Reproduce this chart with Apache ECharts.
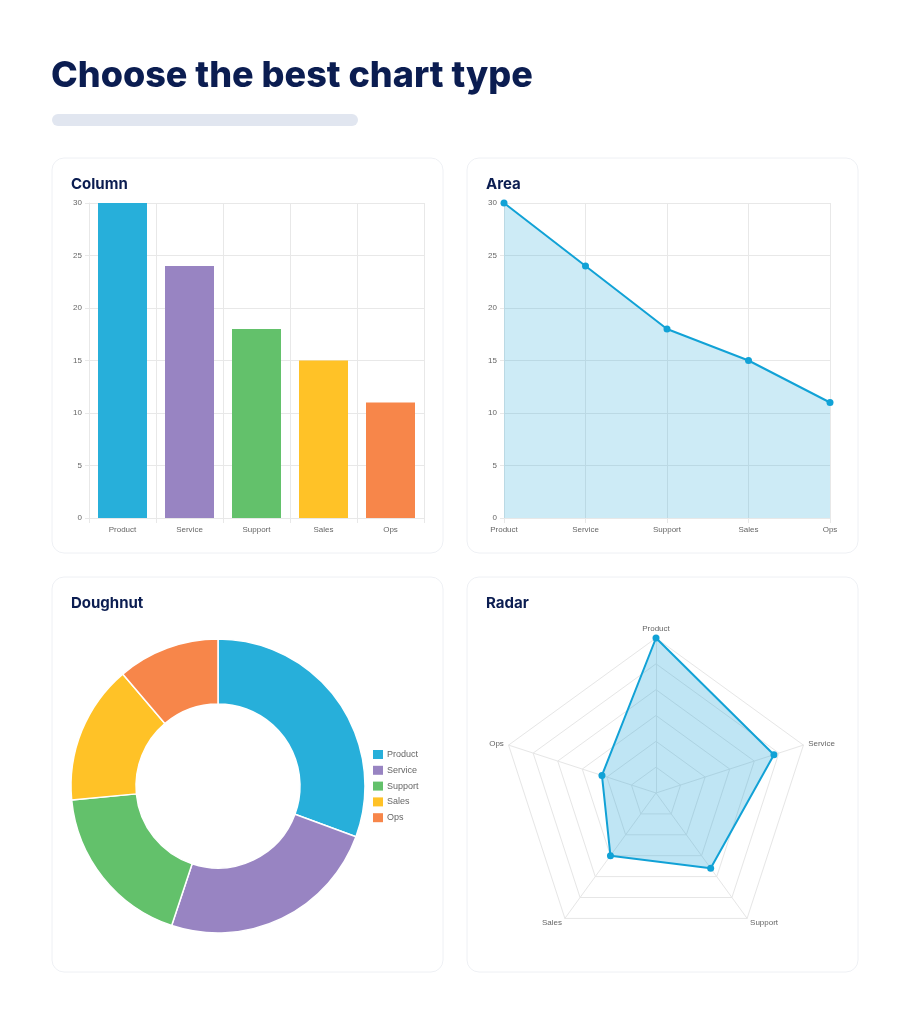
<!DOCTYPE html>
<html>
<head>
<meta charset="utf-8">
<script src="https://cdn.jsdelivr.net/npm/echarts@6/dist/echarts.min.js"></script>
<style>
  html, body { margin: 0; padding: 0; background: #fff; }
  #main { width: 910px; height: 1024px; }
</style>
</head>
<body>
<div id="main"></div>
<script>
const categories = ['Product', 'Service', 'Support', 'Sales', 'Ops'];
const values = [30, 24, 18, 15, 11];
const palette = ['#27AFDA', '#9884C2', '#63C16B', '#FFC227', '#F7864A'];
const yMax = 30;
const yStep = 5;

// radar goes counter-clockwise, so walk the categories backwards after the first
const radarOrder = [0, 4, 3, 2, 1];

const axisText = { color: '#666', fontSize: 8, fontFamily: 'Liberation Sans, Arial, sans-serif' };
const gridLine = { color: '#E8E8E8', width: 1 };
const navy = '#0B1D51';

function card(x, y) {
  return {
    type: 'rect',
    shape: { x: x, y: y, width: 391, height: 395, r: 12 },
    style: { fill: '#fff', stroke: '#EEF0F4', lineWidth: 1 },
    z: -10
  };
}

function cardTitle(text, left, top) {
  return {
    text: text,
    left: left,
    top: top,
    padding: 0,
    textStyle: { color: navy, fontSize: 15, fontWeight: 700, fontFamily: 'Inter, sans-serif', lineHeight: 18 }
  };
}

function valueAxis(gridIndex) {
  return {
    type: 'value',
    gridIndex: gridIndex,
    min: 0,
    max: yMax,
    interval: yStep,
    axisLine: { show: true, lineStyle: gridLine },
    axisTick: { show: true, length: 4, lineStyle: gridLine },
    axisLabel: Object.assign({ margin: 7 }, axisText),
    splitLine: { show: true, lineStyle: gridLine }
  };
}

const chart = echarts.init(document.getElementById('main'));

chart.setOption({
  animation: false,
  title: [
    {
      text: 'Choose the best chart type',
      left: 51,
      top: 55,
      padding: 0,
      textStyle: { color: navy, fontSize: 36, fontWeight: 800, fontFamily: 'Inter, sans-serif', lineHeight: 42 }
    },
    cardTitle('Column', 71, 175),
    cardTitle('Area', 486, 175),
    cardTitle('Doughnut', 71, 594),
    cardTitle('Radar', 486, 594)
  ],
  graphic: [
    {
      type: 'rect',
      shape: { x: 52, y: 114, width: 306, height: 12, r: 6 },
      style: { fill: '#E1E6F0' },
      z: -10
    },
    card(52, 158),
    card(467, 158),
    card(52, 577),
    card(467, 577)
  ],
  grid: [
    { left: 89, top: 203, width: 335, height: 315 },
    { left: 504, top: 203, width: 326, height: 315 }
  ],
  xAxis: [
    {
      type: 'category',
      gridIndex: 0,
      data: categories,
      boundaryGap: true,
      axisLine: { show: true, lineStyle: gridLine },
      axisTick: { show: true, length: 5, lineStyle: gridLine },
      axisLabel: Object.assign({ margin: 8 }, axisText),
      splitLine: { show: true, lineStyle: gridLine }
    },
    {
      type: 'category',
      gridIndex: 1,
      data: categories,
      boundaryGap: false,
      axisLine: { show: true, lineStyle: gridLine },
      axisTick: { show: true, length: 5, lineStyle: gridLine },
      axisLabel: Object.assign({ margin: 8 }, axisText),
      splitLine: { show: true, lineStyle: gridLine }
    }
  ],
  yAxis: [valueAxis(0), valueAxis(1)],
  legend: {
    data: categories,
    orient: 'vertical',
    left: 373,
    top: 750,
    padding: 0,
    itemWidth: 10,
    itemHeight: 9,
    itemGap: 6.8,
    itemStyle: { borderWidth: 0 },
    icon: 'rect',
    textStyle: { color: '#666', fontSize: 9, fontFamily: 'Liberation Sans, Arial, sans-serif', padding: [0, 0, 0, -1] }
  },
  radar: {
    center: [656, 793],
    radius: 155,
    shape: 'polygon',
    splitNumber: 6,
    startAngle: 90,
    nameGap: 5,
    indicator: radarOrder.map(function (i) { return { name: categories[i], max: yMax }; }),
    axisName: { color: '#666', fontSize: 8, fontFamily: 'Liberation Sans, Arial, sans-serif' },
    axisLine: { lineStyle: { color: '#E6E6E6' } },
    splitLine: { lineStyle: { color: '#E6E6E6' } },
    splitArea: { show: false }
  },
  series: [
    {
      type: 'bar',
      xAxisIndex: 0,
      yAxisIndex: 0,
      barWidth: 49,
      data: values.map(function (v, i) {
        return { value: v, itemStyle: { color: palette[i] } };
      })
    },
    {
      type: 'line',
      xAxisIndex: 1,
      yAxisIndex: 1,
      data: values,
      symbol: 'circle',
      symbolSize: 7,
      lineStyle: { color: '#11A2D6', width: 2 },
      itemStyle: { color: '#11A2D6' },
      areaStyle: { color: 'rgba(26,163,214,0.22)', opacity: 1 }
    },
    {
      type: 'pie',
      center: [218, 786],
      radius: [82, 147],
      startAngle: 90,
      clockwise: true,
      label: { show: false },
      labelLine: { show: false },
      itemStyle: { borderColor: '#fff', borderWidth: 1.5 },
      data: categories.map(function (c, i) {
        return { name: c, value: values[i], itemStyle: { color: palette[i] } };
      })
    },
    {
      type: 'radar',
      symbol: 'circle',
      symbolSize: 7,
      lineStyle: { color: '#11A2D6', width: 2 },
      itemStyle: { color: '#11A2D6' },
      areaStyle: { color: 'rgba(26,163,214,0.28)', opacity: 1 },
      data: [{ value: radarOrder.map(function (i) { return values[i]; }), name: 'Values' }]
    }
  ]
});
</script>
</body>
</html>
